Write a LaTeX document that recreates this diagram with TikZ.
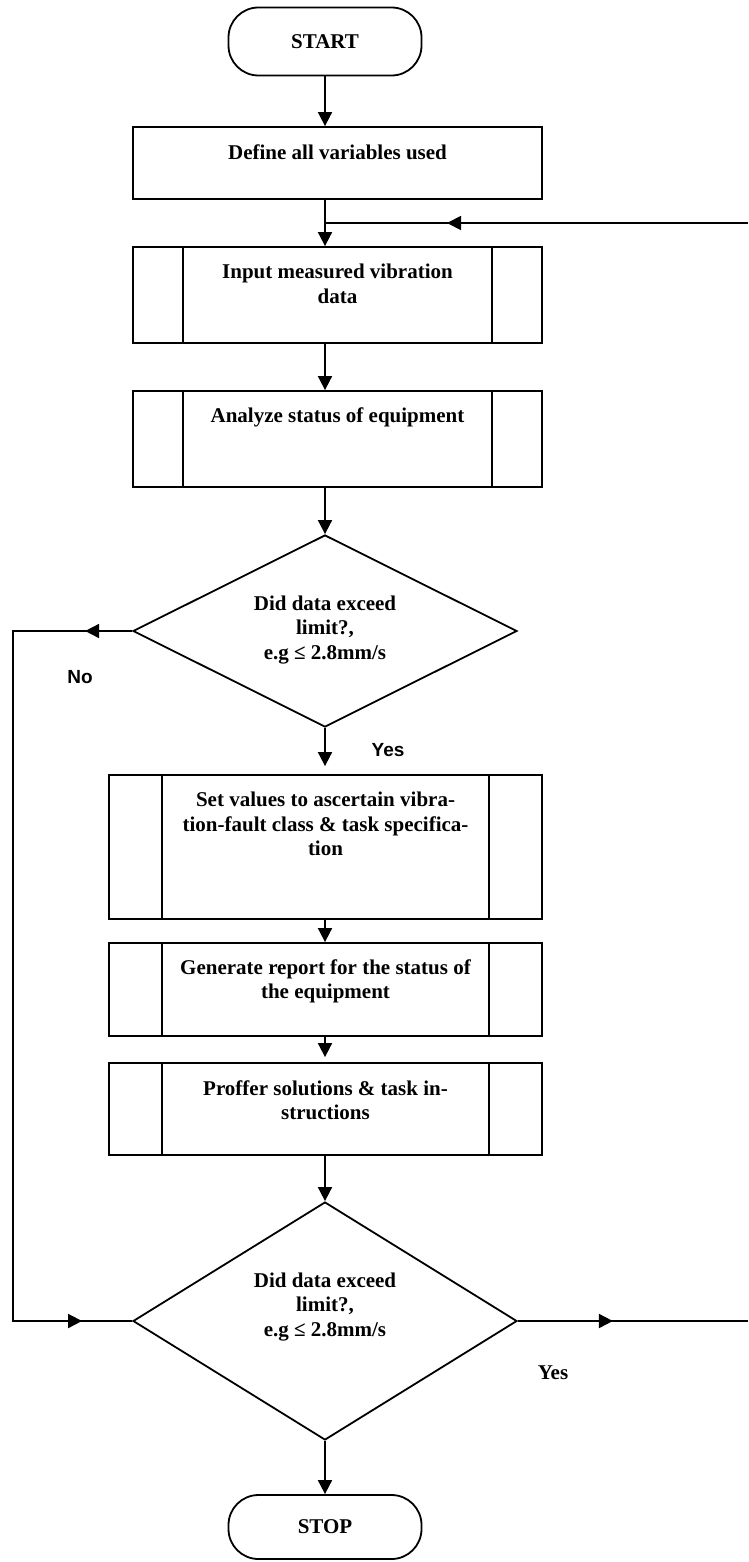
\documentclass[tikz,border=0pt]{standalone}
\usepackage{fontspec}
\setmainfont{Liberation Serif}
\newfontfamily\labelsans{Liberation Sans}
\usepackage{tikz}
\usetikzlibrary{arrows.meta, shapes.geometric, decorations.markings, calc}

\tikzset{
  >={Triangle[length=14pt, width=14pt]},
  wire/.style={line width=1.8pt},
  flow/.style={wire, ->},
  midarrow/.style={wire, postaction={decorate},
    decoration={markings, mark=at position #1 with {\arrow{>}}}},
  termbox/.style={wire, draw, rounded corners=30pt, minimum width=193pt,
    minimum height=68pt, inner sep=0pt, font=\fontsize{21}{25}\selectfont\bfseries},
  procbox/.style={wire, draw, inner sep=0pt},
  subproc/.style={procbox, path picture={
    \draw[wire] ([xshift=#1]path picture bounding box.north west) -- ([xshift=#1]path picture bounding box.south west);
    \draw[wire] ([xshift=-#1]path picture bounding box.north east) -- ([xshift=-#1]path picture bounding box.south east);}},
  decision/.style={wire, draw, diamond, inner sep=0pt, minimum width=384pt},
  boxtext/.style={anchor=north, align=center, inner sep=0pt,
    font=\fontsize{21}{24.5}\selectfont\bfseries},
  sanslabel/.style={inner sep=0pt, font=\labelsans\fontsize{19}{22}\selectfont\bfseries},
  seriflabel/.style={inner sep=0pt, font=\fontsize{21}{25}\selectfont\bfseries},
}

\begin{document}
\begin{tikzpicture}[x=1pt, y=-1pt]
  \useasboundingbox (0,0) rectangle (748,1562);

  % --- top part ---
  \node[termbox] (start) at (325,41.5) {START};
  \node[procbox, minimum width=409pt, minimum height=72pt] (define) at (337.5,163) {};
  \node[boxtext] (definetxt) at ($(define.north)+(0,18)$) {Define all variables used};
  \node[subproc=50pt, minimum width=409pt, minimum height=96pt] (input) at (337.5,295) {};
  \node[boxtext] (inputtxt) at ($(input.north)+(0,18)$) {Input measured vibration\\data};
  \node[subproc=50pt, minimum width=409pt, minimum height=96pt] (analyze) at (337.5,439) {};
  \node[boxtext] (analyzetxt) at ($(analyze.north)+(0,17)$) {Analyze status of equipment};

  % --- first decision ---
  \node[decision, minimum height=192pt] (d1) at (325,631) {};
  \node[boxtext, anchor=center] (d1txt) at ($(d1)+(0,-1)$) {Did data exceed\\limit?,\\e.g ≤ 2.8mm/s};

  % --- reporting part ---
  \node[subproc=53pt, minimum width=433pt, minimum height=144pt] (setval) at (325.5,847) {};
  \node[boxtext] (setvaltxt) at ($(setval.north)+(0,18)$) {Set values to ascertain vibra-\\tion-fault class \& task specifica-\\tion};
  \node[subproc=53pt, minimum width=433pt, minimum height=93pt] (report) at (325.5,989.5) {};
  \node[boxtext] (reporttxt) at ($(report.north)+(0,17)$) {Generate report for the status of\\the equipment};
  \node[subproc=53pt, minimum width=433pt, minimum height=92pt] (proffer) at (325.5,1109) {};
  \node[boxtext] (proffertxt) at ($(proffer.north)+(0,18)$) {Proffer solutions \& task in-\\structions};

  % --- second decision ---
  \node[decision, minimum height=238pt] (d2) at (325,1321) {};
  \node[boxtext, anchor=center] (d2txt) at ($(d2)+(0,-14)$) {Did data exceed\\limit?,\\e.g ≤ 2.8mm/s};
  \node[termbox, minimum height=64pt] (stop) at (325,1527) {STOP};

  % --- labels ---
  \node[sanslabel] (nolab) at (80,677) {No};
  \node[sanslabel] (yeslab) at (388,750) {Yes};
  \node[seriflabel] (yesout) at (553,1373) {Yes};

  % --- connectors ---
  \coordinate (fbjoin) at (325,223);
  \coordinate (fbin) at (748,223);
  \coordinate (noturn) at (13,631);
  \coordinate (nodrop) at (13,1321);
  \coordinate (yesend) at (748,1321);

  \draw[flow] (start) -- (start |- define.north);
  \draw[wire] (define.south -| fbjoin) -- (fbjoin);
  \draw[flow] (fbjoin) -- (fbjoin |- input.north);
  \draw[midarrow=301pt] (fbin) -- (fbjoin);
  \draw[flow] (input.south -| fbjoin) -- (fbjoin |- analyze.north);
  \draw[flow] (analyze.south -| d1) -- (d1.north);
  \draw[flow, shorten >=8pt] (d1.south) -- (d1.south |- setval.north);
  \draw[flow] (setval.south -| d1) -- (d1 |- report.north);
  \draw[flow, shorten >=5pt] (report.south -| d1) -- (d1 |- proffer.north);
  \draw[flow] (proffer.south -| d2) -- (d2.north);
  \draw[flow] (d2.south) -- (d2.south |- stop.north);
  \draw[wire, postaction={decorate}, decoration={markings,
      mark=at position 47pt with {\arrow{>}},
      mark=at position -50pt with {\arrow{>}}}]
    (d1.west) -- (noturn) -- (nodrop) -- (d2.west);
  \draw[midarrow=95pt] (d2.east) -- (yesend);
\end{tikzpicture}
\end{document}
